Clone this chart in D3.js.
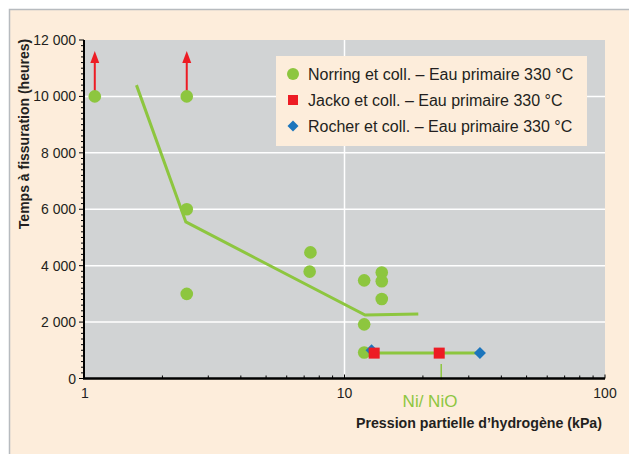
<!DOCTYPE html>
<html><head><meta charset="utf-8">
<script src="https://cdn.jsdelivr.net/npm/d3@7"></script>
<style>body{margin:0;background:#fff;}svg{display:block;font-family:"Liberation Sans",Arial,sans-serif;}</style>
</head><body>
<svg id="c" width="629" height="454"></svg>
<script>
// Data
const norringX = [1.1, 2.48, 2.48, 2.48, 7.4, 7.35, 11.9, 11.9, 11.9, 13.9, 13.9, 13.9];
const norringY = [10000, 10000, 6000, 3000, 4470, 3790, 3480, 1920, 920, 3760, 3450, 2820];
const jackoX = [13.0, 23.1];
const jackoY = [900, 900];
const rocherX = [12.7, 33.1];
const rocherY = [1000, 900];
const trendX = [1.59, 2.46, 12.0, 19.2];
const trendY = [10400, 5550, 2250, 2290];
const niLineX = [11.9, 33.1];
const niLineY = [900, 900];
const arrowX = [1.1, 2.48];
const arrowFrom = [10000, 10000];
const arrowTo = [11400, 11400];
const yTicks = [0, 2000, 4000, 6000, 8000, 10000, 12000];
const yTickLabels = ["0", "2 000", "4 000", "6 000", "8 000", "10 000", "12 000"];
const xTicks = [1, 10, 100];
const xTickLabels = ["1", "10", "100"];
const legendLabels = ["Norring et coll. – Eau primaire 330 °C", "Jacko et coll. – Eau primaire 330 °C", "Rocher et coll. – Eau primaire 330 °C"];

const green = "#8dc63f", red = "#ed1c24", blue = "#1c75bc", ink = "#231f20";
const svg = d3.select("#c");
svg.append("rect").attr("x", 9.5).attr("y", 9.5).attr("width", 630).attr("height", 460)
  .attr("fill", "#fdeddb").attr("stroke", "#b7bbbf").attr("stroke-width", 1.5);

const L = 84, R = 605, T = 40, B = 378.5;
const x = d3.scaleLog().domain([1, 100]).range([L, R]);
const y = d3.scaleLinear().domain([0, 12000]).range([B, T]);

svg.append("rect").attr("x", L).attr("y", T).attr("width", R - L).attr("height", B - T).attr("fill", "#d1d3d4");
// grid
svg.append("g").selectAll("line").data(yTicks.filter(d => d > 0 && d < 12000)).join("line")
  .attr("x1", L).attr("x2", R).attr("y1", d => y(d)).attr("y2", d => y(d)).attr("stroke", "#fff").attr("stroke-width", 1.5);
svg.append("line").attr("x1", x(10)).attr("x2", x(10)).attr("y1", T).attr("y2", B).attr("stroke", "#fff").attr("stroke-width", 1.5);

// legend
const lg = svg.append("g");
lg.append("rect").attr("x", 276).attr("y", 56).attr("width", 311).attr("height", 90).attr("fill", "#fdeddb");
const ly = [74, 100, 126];
lg.append("circle").attr("cx", 293).attr("cy", ly[0]).attr("r", 6).attr("fill", green);
lg.append("rect").attr("x", 288).attr("y", ly[1] - 5).attr("width", 10).attr("height", 10).attr("fill", red);
lg.append("path").attr("d", d3.symbol(d3.symbolSquare, 60)()).attr("transform", `translate(293,${ly[2]}) rotate(45)`).attr("fill", blue);
lg.selectAll("text").data(legendLabels).join("text").attr("x", 308).attr("y", (d, i) => ly[i] + 5.5)
  .attr("font-size", 16).attr("fill", ink).text(d => d);

// trend lines
const line = d3.line().x(d => x(d[0])).y(d => y(d[1]));
svg.append("path").attr("d", line(trendX.map((v, i) => [v, trendY[i]]))).attr("fill", "none").attr("stroke", green).attr("stroke-width", 3);
svg.append("path").attr("d", line(niLineX.map((v, i) => [v, niLineY[i]]))).attr("fill", "none").attr("stroke", green).attr("stroke-width", 3);

// arrows
arrowX.forEach((v, i) => {
  svg.append("line").attr("x1", x(v)).attr("x2", x(v)).attr("y1", y(arrowFrom[i]) - 5).attr("y2", y(arrowTo[i]) + 6)
    .attr("stroke", red).attr("stroke-width", 2);
  const tx = x(v), ty = y(arrowTo[i]) - 6;
  svg.append("path").attr("d", `M${tx},${ty} L${tx - 4.5},${ty + 12} L${tx + 4.5},${ty + 12} Z`).attr("fill", red);
});

// points
svg.append("g").selectAll("circle").data(norringX).join("circle")
  .attr("cx", d => x(d)).attr("cy", (d, i) => y(norringY[i])).attr("r", 6.3).attr("fill", green);
svg.append("g").selectAll("path").data(rocherX).join("path")
  .attr("d", d3.symbol(d3.symbolSquare, 72)()).attr("transform", (d, i) => `translate(${x(d)},${y(rocherY[i])}) rotate(45)`).attr("fill", blue);
svg.append("g").selectAll("rect").data(jackoX).join("rect")
  .attr("x", d => x(d) - 5.5).attr("y", (d, i) => y(jackoY[i]) - 5.5).attr("width", 11).attr("height", 11).attr("fill", red);

// Ni/NiO annotation
svg.append("line").attr("x1", x(jackoX[1]) + 2).attr("x2", x(jackoX[1]) + 2).attr("y1", y(jackoY[1]) + 11).attr("y2", B + 1)
  .attr("stroke", green).attr("stroke-width", 1.5);
svg.append("text").attr("x", 430).attr("y", 407).attr("text-anchor", "middle").attr("font-size", 17).attr("fill", green).text("Ni/ NiO");

// Y axis
const yMinor = d3.range(0, 12001, 200);
svg.append("g").selectAll("line").data(yMinor).join("line")
  .attr("x1", d => d % 2000 === 0 ? L - 5 : L - 3).attr("x2", L).attr("y1", d => y(d)).attr("y2", d => y(d))
  .attr("stroke", "#000").attr("stroke-width", 1);
svg.append("line").attr("x1", L).attr("x2", L).attr("y1", T).attr("y2", B).attr("stroke", "#000").attr("stroke-width", 2);
svg.append("g").selectAll("text").data(yTicks).join("text")
  .attr("x", 76).attr("y", d => y(d) + 5).attr("text-anchor", "end").attr("font-size", 14).attr("fill", ink)
  .text((d, i) => yTickLabels[i]);

// X axis
const xMinor = [];
[1, 10].forEach(dec => { for (let k = 2; k <= 9; k++) xMinor.push(dec * k); });
svg.append("g").selectAll("line").data(xMinor.concat(xTicks)).join("line")
  .attr("x1", d => x(d)).attr("x2", d => x(d)).attr("y1", B).attr("y2", d => xTicks.includes(d) ? B - 4 : B - 3)
  .attr("stroke", "#000").attr("stroke-width", 1);
svg.append("line").attr("x1", L - 1).attr("x2", R).attr("y1", B).attr("y2", B).attr("stroke", "#000").attr("stroke-width", 2.5);
svg.append("g").selectAll("text").data(xTicks).join("text")
  .attr("x", d => x(d) + (d === 1 ? 1 : 0)).attr("y", 398).attr("text-anchor", "middle").attr("font-size", 14).attr("fill", ink)
  .text((d, i) => xTickLabels[i]);

// axis titles
svg.append("text").attr("x", 602).attr("y", 428).attr("text-anchor", "end").attr("font-size", 14.2).attr("font-weight", "bold").attr("fill", ink)
  .text("Pression partielle d’hydrogène (kPa)");
svg.append("text").attr("transform", "translate(29,134) rotate(-90)").attr("text-anchor", "middle").attr("font-size", 14).attr("font-weight", "bold").attr("fill", ink)
  .text("Temps à fissuration (heures)");
</script>
</body></html>
